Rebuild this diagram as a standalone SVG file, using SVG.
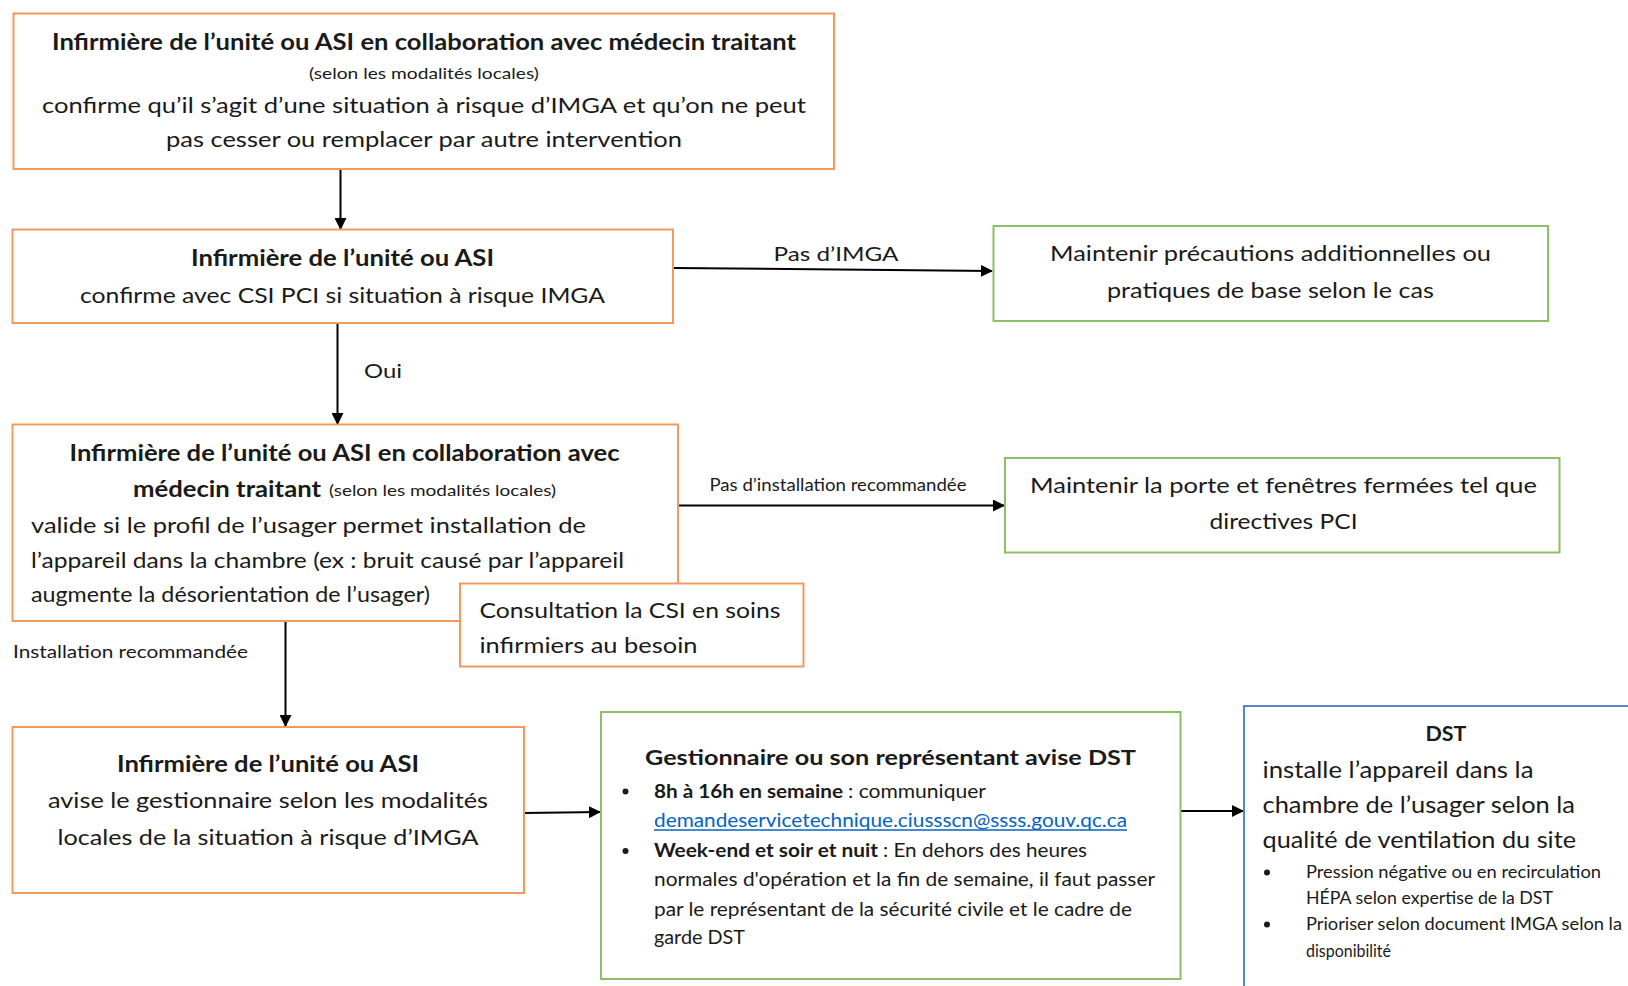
<svg xmlns="http://www.w3.org/2000/svg" width="1628" height="986" viewBox="0 0 1628 986">
<style>
text{font-family:Lato,"Open Sans","Liberation Sans",sans-serif;fill:#1a1a1a}
.b{font-weight:bold}
.m{font-size:22px}
.s{font-size:16px}
.t{font-size:18.5px}
.or{fill:#fff;stroke:#F29A5E;stroke-width:2}
.gr{fill:#fff;stroke:#8DC066;stroke-width:2}
.bl{fill:#fff;stroke:#5B84D0;stroke-width:2}
.c{stroke:#000;stroke-width:2;fill:none}
.lnk{fill:#0563C1}
</style>
<defs>
<marker id="ah" markerWidth="12" markerHeight="12" refX="11" refY="6" orient="auto" markerUnits="userSpaceOnUse">
<path d="M0,0 L12,6 L0,12 Z" fill="#000"/>
</marker>
</defs>

<g id="connectors">
<line class="c" x1="340.5" y1="169" x2="340.5" y2="229" marker-end="url(#ah)"/>
<line class="c" x1="673" y1="268" x2="992" y2="271" marker-end="url(#ah)"/>
<line class="c" x1="337.5" y1="323" x2="337.5" y2="424" marker-end="url(#ah)"/>
<line class="c" x1="678" y1="505.5" x2="1004" y2="505.5" marker-end="url(#ah)"/>
<line class="c" x1="285.5" y1="621" x2="285.5" y2="726" marker-end="url(#ah)"/>
<line class="c" x1="524" y1="813" x2="600" y2="812" marker-end="url(#ah)"/>
<line class="c" x1="1180.5" y1="811" x2="1243" y2="811" marker-end="url(#ah)"/>
<text x="836" y="261" text-anchor="middle" style="font-size:20px" textLength="125" lengthAdjust="spacingAndGlyphs">Pas d’IMGA</text>
<text x="383" y="378" text-anchor="middle" style="font-size:20px" textLength="38" lengthAdjust="spacingAndGlyphs">Oui</text>
<text x="838" y="491" text-anchor="middle" style="font-size:16.5px" textLength="257" lengthAdjust="spacingAndGlyphs">Pas d’installation recommandée</text>
<text x="13" y="658" style="font-size:18px" textLength="235" lengthAdjust="spacingAndGlyphs">Installation recommandée</text>
</g>

<g id="n1">
<rect class="or" x="13.5" y="13.5" width="820.5" height="155.5"/>
<text class="m b" x="424" y="50" text-anchor="middle" textLength="744" lengthAdjust="spacingAndGlyphs">Infirmière de l’unité ou ASI en collaboration avec médecin traitant</text>
<text class="s" x="424" y="79" text-anchor="middle" textLength="230" lengthAdjust="spacingAndGlyphs">(selon les modalités locales)</text>
<text class="m" x="424" y="112.5" text-anchor="middle" textLength="764" lengthAdjust="spacingAndGlyphs">confirme qu’il s’agit d’une situation à risque d’IMGA et qu’on ne peut</text>
<text class="m" x="424" y="146.5" text-anchor="middle" textLength="516" lengthAdjust="spacingAndGlyphs">pas cesser ou remplacer par autre intervention</text>
</g>

<g id="n2">
<rect class="or" x="12.5" y="229.5" width="660.5" height="93.5"/>
<text class="m b" x="342.5" y="266" text-anchor="middle" textLength="303" lengthAdjust="spacingAndGlyphs">Infirmière de l’unité ou ASI</text>
<text class="m" x="342.5" y="302.5" text-anchor="middle" textLength="525" lengthAdjust="spacingAndGlyphs">confirme avec CSI PCI si situation à risque IMGA</text>
</g>

<g id="n3">
<rect class="gr" x="993.5" y="226" width="554.5" height="95"/>
<text class="m" x="1270.5" y="260.5" text-anchor="middle" textLength="441" lengthAdjust="spacingAndGlyphs">Maintenir précautions additionnelles ou</text>
<text class="m" x="1270.5" y="297.5" text-anchor="middle" textLength="327" lengthAdjust="spacingAndGlyphs">pratiques de base selon le cas</text>
</g>

<g id="n4">
<rect class="or" x="12.5" y="424.5" width="665.5" height="196.5"/>
<text class="m b" x="344.5" y="461" text-anchor="middle" textLength="550" lengthAdjust="spacingAndGlyphs">Infirmière de l’unité ou ASI en collaboration avec</text>
<text class="m b" x="133" y="496.5" textLength="188" lengthAdjust="spacingAndGlyphs">médecin traitant</text>
<text class="s" x="329" y="496" textLength="227" lengthAdjust="spacingAndGlyphs">(selon les modalités locales)</text>
<text class="m" x="31" y="533" textLength="555" lengthAdjust="spacingAndGlyphs">valide si le profil de l’usager permet installation de</text>
<text class="m" x="31" y="568" textLength="593" lengthAdjust="spacingAndGlyphs">l’appareil dans la chambre (ex : bruit causé par l’appareil</text>
<text class="m" style="font-size:20.5px" x="31" y="602" textLength="399" lengthAdjust="spacingAndGlyphs">augmente la désorientation de l’usager)</text>
</g>

<g id="n5">
<rect class="or" x="460" y="583.5" width="343.5" height="83"/>
<text class="m" x="479.5" y="618" textLength="301" lengthAdjust="spacingAndGlyphs">Consultation la CSI en soins</text>
<text class="m" x="479.5" y="652.5" textLength="218" lengthAdjust="spacingAndGlyphs">infirmiers au besoin</text>
</g>

<g id="n6">
<rect class="gr" x="1005" y="458" width="554.5" height="94.5"/>
<text class="m" x="1283.5" y="492.5" text-anchor="middle" textLength="507" lengthAdjust="spacingAndGlyphs">Maintenir la porte et fenêtres fermées tel que</text>
<text class="m" x="1283.5" y="528.5" text-anchor="middle" textLength="148" lengthAdjust="spacingAndGlyphs">directives PCI</text>
</g>

<g id="n7">
<rect class="or" x="12.5" y="727" width="511.5" height="166"/>
<text class="m b" x="268" y="771.5" text-anchor="middle" textLength="302" lengthAdjust="spacingAndGlyphs">Infirmière de l’unité ou ASI</text>
<text class="m" x="268" y="808" text-anchor="middle" textLength="440" lengthAdjust="spacingAndGlyphs">avise le gestionnaire selon les modalités</text>
<text class="m" x="268" y="844.5" text-anchor="middle" textLength="421" lengthAdjust="spacingAndGlyphs">locales de la situation à risque d’IMGA</text>
</g>

<g id="n8">
<rect class="gr" x="601" y="712" width="579.5" height="267"/>
<text class="b" style="font-size:21px" x="890.5" y="765" text-anchor="middle" textLength="491" lengthAdjust="spacingAndGlyphs">Gestionnaire ou son représentant avise DST</text>
<circle cx="625.5" cy="791.5" r="3" fill="#1a1a1a"/>
<text class="t b" x="654" y="797.5" textLength="189" lengthAdjust="spacingAndGlyphs">8h à 16h en semaine</text>
<text class="t" x="848" y="797.5" textLength="138" lengthAdjust="spacingAndGlyphs">: communiquer</text>
<text class="t lnk" x="654" y="826.5" textLength="473" lengthAdjust="spacingAndGlyphs">demandeservicetechnique.ciussscn@ssss.gouv.qc.ca</text>
<line x1="654" y1="830" x2="1127" y2="830" stroke="#0563C1" stroke-width="1.5"/>
<circle cx="625.5" cy="851" r="3" fill="#1a1a1a"/>
<text class="t b" x="654" y="857" textLength="224" lengthAdjust="spacingAndGlyphs">Week-end et soir et nuit</text>
<text class="t" x="883" y="857" textLength="204" lengthAdjust="spacingAndGlyphs">: En dehors des heures</text>
<text class="t" x="654" y="886" textLength="501" lengthAdjust="spacingAndGlyphs">normales d'opération et la fin de semaine, il faut passer</text>
<text class="t" x="654" y="916" textLength="478" lengthAdjust="spacingAndGlyphs">par le représentant de la sécurité civile et le cadre de</text>
<text class="t" x="654" y="944" textLength="91" lengthAdjust="spacingAndGlyphs">garde DST</text>
</g>

<g id="n9">
<rect class="bl" x="1244" y="706" width="400" height="300"/>
<text class="b" style="font-size:21px" x="1446" y="740.5" text-anchor="middle" textLength="41" lengthAdjust="spacingAndGlyphs">DST</text>
<text style="font-size:23.5px" x="1262.5" y="777.5" textLength="271" lengthAdjust="spacingAndGlyphs">installe l’appareil dans la</text>
<text style="font-size:23.5px" x="1262.5" y="813" textLength="312.5" lengthAdjust="spacingAndGlyphs">chambre de l’usager selon la</text>
<text style="font-size:23.5px" x="1262.5" y="848" textLength="313.5" lengthAdjust="spacingAndGlyphs">qualité de ventilation du site</text>
<circle cx="1267" cy="872.5" r="3" fill="#1a1a1a"/>
<text style="font-size:17px" x="1306" y="878" textLength="295" lengthAdjust="spacingAndGlyphs">Pression négative ou en recirculation</text>
<text style="font-size:17px" x="1306" y="904" textLength="247" lengthAdjust="spacingAndGlyphs">HÉPA selon expertise de la DST</text>
<circle cx="1267" cy="924.5" r="3" fill="#1a1a1a"/>
<text style="font-size:17px" x="1306" y="930" textLength="316" lengthAdjust="spacingAndGlyphs">Prioriser selon document IMGA selon la</text>
<text style="font-size:17px" x="1306" y="957" textLength="85" lengthAdjust="spacingAndGlyphs">disponibilité</text>
</g>
</svg>
